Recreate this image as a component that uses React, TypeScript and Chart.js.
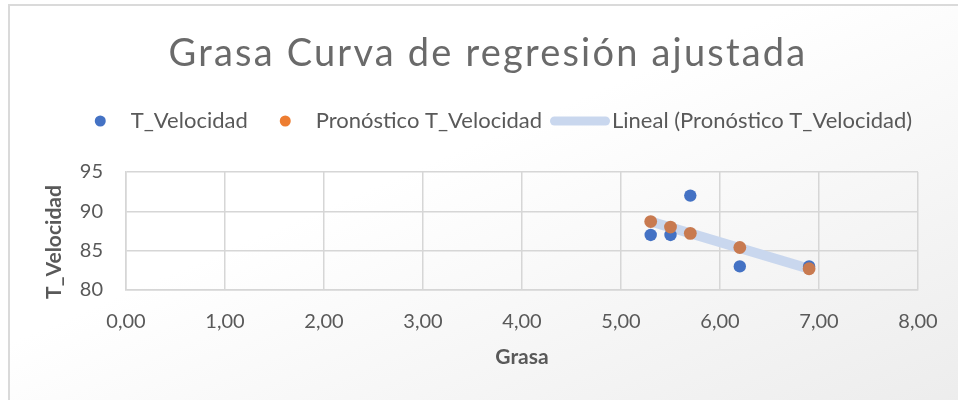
import React, { useEffect, useRef } from "react";
import { Chart, registerables } from "chart.js";

Chart.register(...registerables);

// ---- data ----
const chartTitle = "Grasa Curva de regresión ajustada";
const xAxisTitle = "Grasa";
const yAxisTitle = "T_Velocidad";
const seriesNames = ["T_Velocidad", "Pronóstico T_Velocidad", "Lineal (Pronóstico T_Velocidad)"];
const grasa = [5.3, 5.5, 5.7, 6.2, 6.9];
const velocidad = [87, 87, 92, 83, 83];
const pronostico = [88.7, 88.0, 87.2, 85.4, 82.7];
const trendGrasa = [5.3, 6.9];
const trendVelocidad = [88.7, 82.7];
const xTickValues = [0, 1, 2, 3, 4, 5, 6, 7, 8];
const yTickValues = [80, 85, 90, 95];

const FONT = "Lato, 'Open Sans', sans-serif";
const TEXT = "#595959";
const GRID = "#d6d6d6";
const BLUE = "#4472C4";
const ORANGE_PLOT = "rgb(200,122,80)";
const ORANGE_LEGEND = "#ED7D31";
const TREND = "rgb(201,215,238)";

const overlayPlugin = {
  id: "excelOverlay",
  afterDraw(chart: any) {
    const ctx: any = chart.ctx;
    ctx.save();
    // title
    ctx.fillStyle = "#6a6a6a";
    ctx.font = `400 38px ${FONT}`;
    ctx.letterSpacing = "2.2px";
    ctx.textAlign = "center";
    ctx.textBaseline = "alphabetic";
    ctx.fillText(chartTitle, 488, 66);
    ctx.letterSpacing = "0px";

    // legend
    ctx.font = `22px ${FONT}`;
    ctx.textAlign = "left";
    ctx.textBaseline = "middle";
    const legendY = 121;
    const kinds = ["dot", "dot", "line"];
    const colors = [BLUE, ORANGE_LEGEND, TREND];
    const widths = seriesNames.map((s) => ctx.measureText(s).width);
    let total = 0;
    kinds.forEach((k, i) => {
      if (i > 0) total += kinds[i] === "dot" ? 32 : 8;
      total += k === "dot" ? 36 + widths[i] : 62 + widths[i];
    });
    let x = 503.5 - total / 2;
    kinds.forEach((k, i) => {
      if (i > 0) x += k === "dot" ? 32 : 8;
      if (k === "dot") {
        ctx.fillStyle = colors[i];
        ctx.beginPath();
        ctx.arc(x + 5.5, legendY, 5.5, 0, Math.PI * 2);
        ctx.fill();
        ctx.fillStyle = TEXT;
        ctx.fillText(seriesNames[i], x + 36, legendY);
        x += 36 + widths[i];
      } else {
        ctx.strokeStyle = colors[i];
        ctx.lineWidth = 9;
        ctx.lineCap = "round";
        ctx.beginPath();
        ctx.moveTo(x + 4.5, legendY);
        ctx.lineTo(x + 55.5, legendY);
        ctx.stroke();
        ctx.fillStyle = TEXT;
        ctx.fillText(seriesNames[i], x + 62, legendY);
        x += 62 + widths[i];
      }
    });

    // y axis title
    ctx.font = `bold 21px ${FONT}`;
    ctx.fillStyle = TEXT;
    ctx.translate(54, 242);
    ctx.rotate(-Math.PI / 2);
    ctx.textAlign = "center";
    ctx.textBaseline = "middle";
    ctx.fillText(yAxisTitle, 0, 0);
    ctx.restore();
  },
};

export default function App() {
  const ref = useRef<HTMLCanvasElement | null>(null);

  useEffect(() => {
    if (!ref.current) return;
    const chart = new Chart(ref.current, {
      type: "scatter",
      data: {
        datasets: [
          {
            label: seriesNames[0],
            data: grasa.map((g, i) => ({ x: g, y: velocidad[i] })),
            backgroundColor: BLUE,
            borderColor: BLUE,
            borderWidth: 0,
            pointRadius: 6.2,
            order: 1,
          },
          {
            label: seriesNames[1],
            data: grasa.map((g, i) => ({ x: g, y: pronostico[i] })),
            backgroundColor: ORANGE_PLOT,
            borderColor: ORANGE_PLOT,
            borderWidth: 0,
            pointRadius: 6.4,
            order: 0,
          },
          {
            label: seriesNames[2],
            data: trendGrasa.map((g, i) => ({ x: g, y: trendVelocidad[i] })),
            showLine: true,
            borderColor: TREND,
            backgroundColor: TREND,
            borderWidth: 10,
            borderCapStyle: "butt",
            pointRadius: 0,
            order: 2,
          } as any,
        ],
      },
      options: {
        animation: false,
        responsive: false,
        maintainAspectRatio: false,
        layout: { padding: { left: 0, right: 40, top: 172, bottom: 26 } },
        plugins: {
          legend: { display: false },
          tooltip: { enabled: false },
          title: { display: false },
        },
        scales: {
          x: {
            type: "linear",
            min: 0,
            max: 8,
            afterBuildTicks: (s: any) => {
              s.ticks = xTickValues.map((v) => ({ value: v }));
            },
            ticks: {
              color: TEXT,
              font: { family: FONT, size: 20 },
              padding: 20,
              maxRotation: 0,
              callback: (v: any) => Number(v).toFixed(2).replace(".", ","),
            },
            grid: { color: GRID, lineWidth: 1.5, drawTicks: false },
            border: { color: GRID, width: 1.5 },
            title: {
              display: true,
              text: xAxisTitle,
              color: TEXT,
              font: { family: FONT, size: 21, weight: "bold" },
              padding: { top: 0, bottom: 4 },
            },
            afterFit: (s: any) => {
              s.height = 84;
            },
          },
          y: {
            type: "linear",
            min: 80,
            max: 95,
            afterBuildTicks: (s: any) => {
              s.ticks = yTickValues.map((v) => ({ value: v }));
            },
            ticks: {
              color: TEXT,
              font: { family: FONT, size: 20 },
              padding: 23,
            },
            grid: { color: GRID, lineWidth: 1.5, drawTicks: false },
            border: { color: GRID, width: 1.5 },
            afterFit: (s: any) => {
              s.width = 126;
            },
          },
        },
      } as any,
      plugins: [overlayPlugin],
    });
    return () => chart.destroy();
  }, []);

  return (
    <div style={{ position: "fixed", left: 0, top: 0, width: 958, height: 400, overflow: "hidden", background: "#fff" }}>
      <div
        style={{
          position: "absolute",
          left: 8,
          top: 4,
          width: 980,
          height: 420,
          borderTop: "2px solid #dadada",
          borderLeft: "2px solid #dadada",
          background: "linear-gradient(to bottom right, #ffffff 40%, #ebebeb 100%)",
        }}
      />
      <canvas ref={ref} width={958} height={400} style={{ position: "absolute", left: 0, top: 0, width: 958, height: 400 }} />
    </div>
  );
}
